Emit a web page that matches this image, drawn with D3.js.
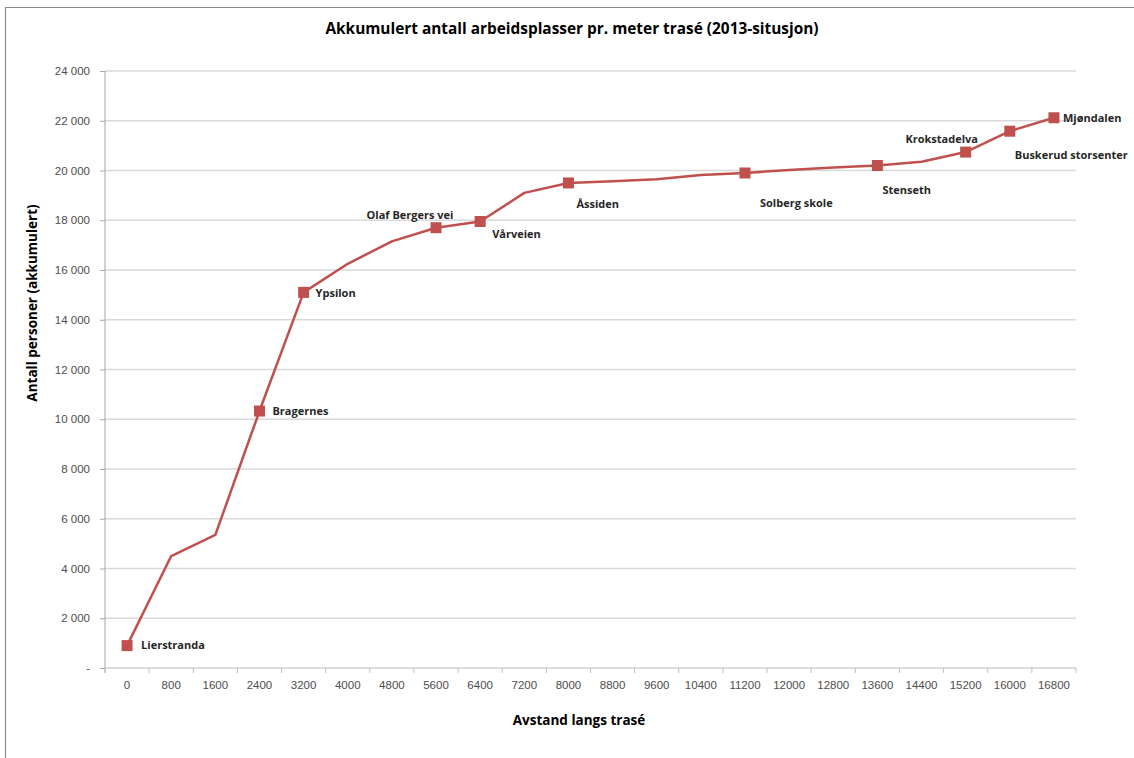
<!DOCTYPE html>
<html>
<head>
<meta charset="utf-8">
<script src="https://cdn.jsdelivr.net/npm/d3@7/dist/d3.min.js"></script>
<style>
  html, body { margin: 0; padding: 0; background: #fff; }
  svg { display: block; font-family: "Open Sans", "Liberation Sans", sans-serif; }
</style>
</head>
<body>
<svg id="chart" width="1134" height="758"></svg>
<script>
// Distance along the route (m) – category labels on the x axis
const distances = ["0","800","1600","2400","3200","4000","4800","5600","6400","7200","8000",
  "8800","9600","10400","11200","12000","12800","13600","14400","15200","16000","16800"];

// Accumulated number of workplaces at each distance
const accumulated = [900, 4500, 5350, 10330, 15100, 16250, 17150, 17700, 17950, 19100, 19500,
  19570, 19650, 19820, 19900, 20020, 20120, 20200, 20350, 20740, 21580, 22120];

// Named stops along the route (marked with a square)
const stops = ["Lierstranda","Bragernes","Ypsilon","Olaf Bergers vei","Vårveien","Åssiden",
  "Solberg skole","Stenseth","Krokstadelva","Buskerud storsenter","Mjøndalen"];
const stopDistances = ["0","2400","3200","5600","6400","8000","11200","13600","15200","16000","16800"];

// Y axis ticks
const yTicks = [0, 2000, 4000, 6000, 8000, 10000, 12000, 14000, 16000, 18000, 20000, 22000, 24000];

const title = "Akkumulert antall arbeidsplasser pr. meter trasé (2013-situsjon)";
const xTitle = "Avstand langs trasé";
const yTitle = "Antall personer (akkumulert)";

// Label placement for each stop: [anchor, dx, dy]
const labelPlacement = {
  "Lierstranda": ["start", 14, 0],
  "Bragernes": ["start", 13, 0],
  "Ypsilon": ["start", 12, 1],
  "Olaf Bergers vei": ["middle", -26, -13],
  "Vårveien": ["start", 12, 13],
  "Åssiden": ["start", 8, 21],
  "Solberg skole": ["start", 15, 30],
  "Stenseth": ["start", 5, 25],
  "Krokstadelva": ["middle", -24, -13],
  "Buskerud storsenter": ["start", 5, 24],
  "Mjøndalen": ["start", 9, 0]
};

const svg = d3.select("#chart");
const W = 1134, H = 758;
const plot = { left: 105, right: 1076, top: 71, bottom: 668 };

// chart frame
svg.append("rect").attr("x", 0).attr("y", 0).attr("width", W).attr("height", H).attr("fill", "#fff");
svg.append("path")
  .attr("d", `M5.5,${H} V7.5 H${W}`)
  .attr("fill", "none").attr("stroke", "#8c8c8c").attr("stroke-width", 1.2);

const x = d3.scaleBand().domain(distances).range([plot.left, plot.right]);
const y = d3.scaleLinear().domain([0, 24000]).range([plot.bottom, plot.top]);

// gridlines
svg.append("g").selectAll("line").data(yTicks.filter(d => d > 0)).join("line")
  .attr("x1", plot.left).attr("x2", plot.right)
  .attr("y1", d => y(d)).attr("y2", d => y(d))
  .attr("stroke", "#d9d9d9").attr("stroke-width", 1.3);

// y axis
const fmt = d => d === 0 ? "-" : d3.format(",")(d).replace(/,/g, " ");
const yAxis = svg.append("g").attr("transform", `translate(${plot.left},0)`)
  .call(d3.axisLeft(y).tickValues(yTicks).tickFormat(fmt).tickSize(5).tickPadding(10));
yAxis.select(".domain").attr("stroke", "#a6a6a6").attr("d", `M0,${plot.top}V${plot.bottom + 5}`);
yAxis.selectAll(".tick line").attr("stroke", "#a6a6a6");
yAxis.selectAll(".tick text").attr("fill", "#4d4d4d").style("font-size", "11.5px")
  .style("font-family", "'Liberation Sans', sans-serif");

// x axis: ticks sit between categories
const xAxis = svg.append("g").attr("transform", `translate(0,${plot.bottom})`)
  .call(d3.axisBottom(x).tickSize(0).tickPadding(13));
xAxis.select(".domain").attr("stroke", "#d0d0d0").attr("stroke-width", 1.5)
  .attr("d", `M${plot.left},0H${plot.right}`);
xAxis.selectAll(".tick text").attr("fill", "#4d4d4d").style("font-size", "11.5px")
  .style("font-family", "'Liberation Sans', sans-serif");
const bounds = distances.map(d => x(d)).concat([x(distances[distances.length - 1]) + x.bandwidth()]);
xAxis.append("g").selectAll("line").data(bounds).join("line")
  .attr("x1", d => d).attr("x2", d => d).attr("y1", 0).attr("y2", 5)
  .attr("stroke", "#bfbfbf");

// series line
const cx = d => x(d) + x.bandwidth() / 2;
const line = d3.line().x((d, i) => cx(distances[i])).y(d => y(d));
svg.append("path").datum(accumulated)
  .attr("d", line).attr("fill", "none")
  .attr("stroke", "#c0504d").attr("stroke-width", 2.5).attr("stroke-linejoin", "round");

// stop markers and labels
const stopData = stops.map((name, i) => {
  const idx = distances.indexOf(stopDistances[i]);
  return { name, dist: stopDistances[i], value: accumulated[idx] };
});
const m = 11;
svg.append("g").selectAll("rect").data(stopData).join("rect")
  .attr("x", d => cx(d.dist) - m / 2).attr("y", d => y(d.value) - m / 2)
  .attr("width", m).attr("height", m).attr("fill", "#c0504d");

svg.append("g").selectAll("text").data(stopData).join("text")
  .attr("x", d => cx(d.dist) + labelPlacement[d.name][1])
  .attr("y", d => y(d.value) + labelPlacement[d.name][2])
  .attr("dy", "0.35em")
  .attr("text-anchor", d => labelPlacement[d.name][0])
  .attr("fill", "#262626").style("font-size", "11px").style("font-weight", "bold")
  .text(d => d.name);

// titles
svg.append("text").attr("x", 572).attr("y", 29).attr("dy", "0.35em")
  .attr("text-anchor", "middle").style("font-size", "15.4px").style("font-weight", "bold")
  .attr("fill", "#000").text(title);
svg.append("text").attr("x", 579).attr("y", 720).attr("dy", "0.35em")
  .attr("text-anchor", "middle").style("font-size", "13.5px").style("font-weight", "bold")
  .attr("fill", "#000").text(xTitle);
svg.append("text").attr("transform", "translate(32,303) rotate(-90)").attr("dy", "0.35em")
  .attr("text-anchor", "middle").style("font-size", "13.5px").style("font-weight", "bold")
  .attr("fill", "#000").text(yTitle);
</script>
</body>
</html>
